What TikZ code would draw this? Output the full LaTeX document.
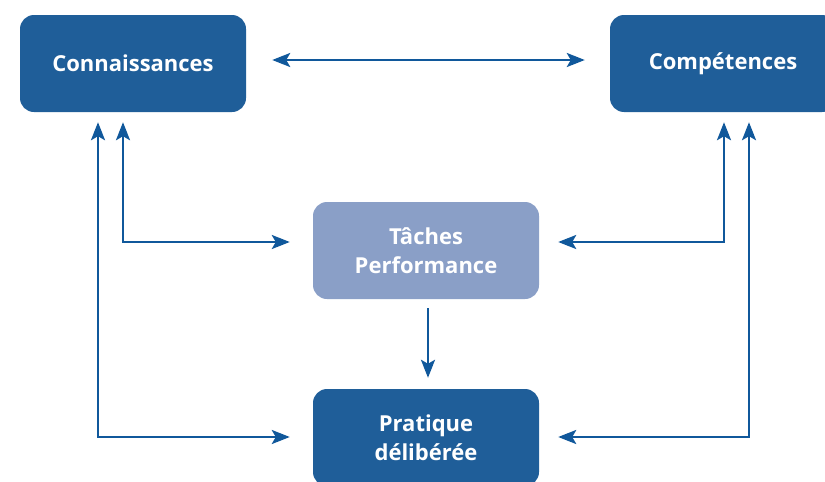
\documentclass[tikz,border=0pt]{standalone}
\usepackage{fontspec}
\setmainfont{Open Sans}
\usetikzlibrary{arrows.meta}
\definecolor{boxdark}{RGB}{31,94,153}
\definecolor{boxlight}{RGB}{138,159,199}
\definecolor{linkblue}{RGB}{16,88,155}
\begin{document}
\begin{tikzpicture}[x=1pt,y=-1pt,
  box/.style={rounded corners=14pt, minimum width=226pt, minimum height=97pt,
    inner sep=0pt, font=\bfseries\fontsize{22}{29}\selectfont, text=white,
    align=center, fill=boxdark},
  lightbox/.style={box, fill=boxlight},
  tip/.tip={Stealth[length=18pt,width=14pt,inset=4pt]},
  link/.style={draw=linkblue, line width=2.6pt, -tip},
  dbl/.style={link, tip-tip}]
\clip (0,0) rectangle (825,482);
\useasboundingbox (0,0) rectangle (825,482);

% boxes
\node[box] (conn) at (133,63.5) {Connaissances};
\node[box] (comp) at (723,63.5) {Compétences};
\node[lightbox] (task) at (426,250.5) {Tâches\\Performance};
\node[box] (prat) at (426,437.5) {Pratique\\délibérée};

% connectors
\draw[dbl] ([xshift=26pt,yshift=3.5pt]conn.east) -- ([xshift=-25pt,yshift=3.5pt]comp.west);
\draw[dbl] ([xshift=-10pt,yshift=-10pt]conn.south) |- ([xshift=-23pt,yshift=8.5pt]task.west);
\draw[dbl] ([xshift=-35pt,yshift=-10pt]conn.south) |- ([xshift=-23pt,yshift=0.5pt]prat.west);
\draw[dbl] ([xshift=1pt,yshift=-10pt]comp.south) |- ([xshift=19pt,yshift=8.5pt]task.east);
\draw[dbl] ([xshift=26pt,yshift=-10pt]comp.south) |- ([xshift=19pt,yshift=0.5pt]prat.east);
\draw[link] ([xshift=2pt,yshift=-9pt]task.south) -- ([xshift=2pt,yshift=11pt]prat.north);
\end{tikzpicture}
\end{document}
